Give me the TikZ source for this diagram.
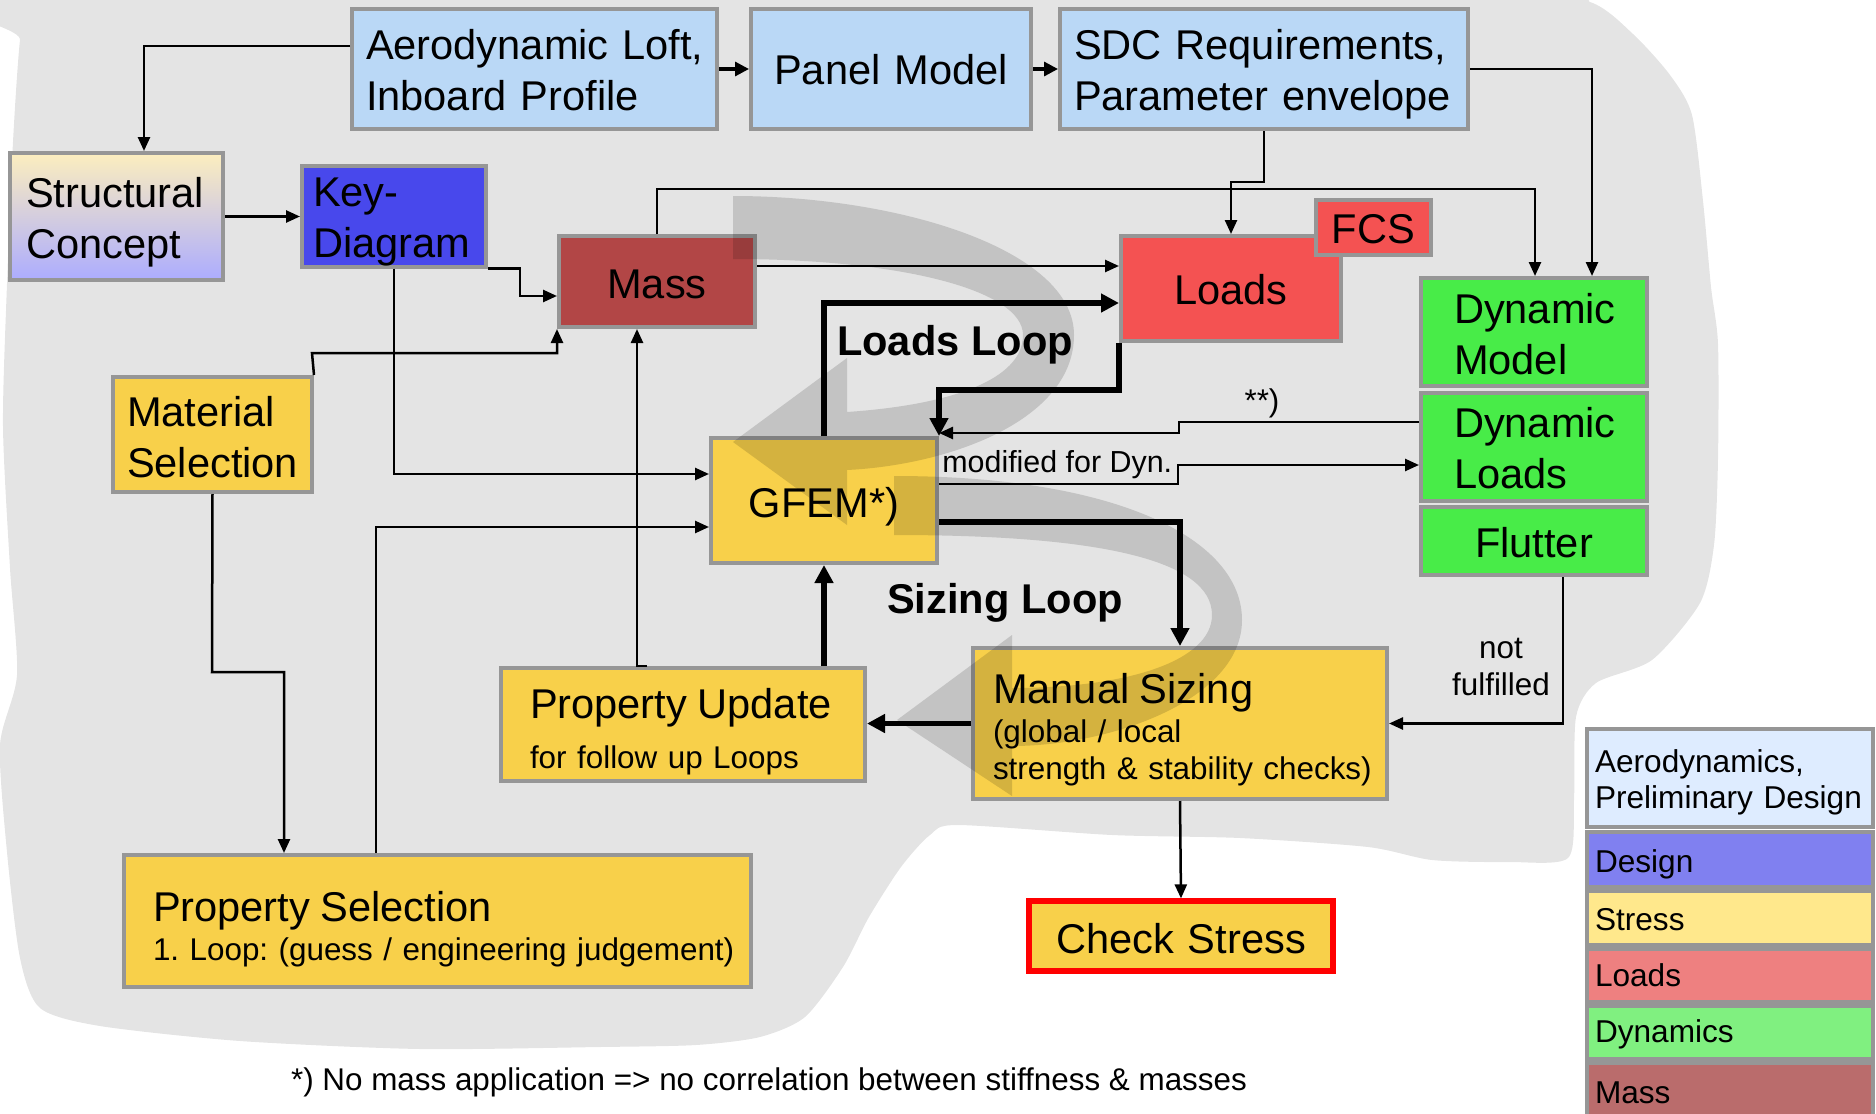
\documentclass[tikz,border=0pt]{standalone}
\usepackage{fontspec}
\setmainfont{Liberation Sans}
\usetikzlibrary{arrows.meta}
\lefthyphenmin=64
\frenchspacing

\definecolor{bluebox}{RGB}{186,216,246}
\definecolor{keyblue}{RGB}{72,72,236}
\definecolor{massred}{RGB}{178,70,70}
\definecolor{loadred}{RGB}{244,82,82}
\definecolor{dyngreen}{RGB}{72,236,72}
\definecolor{stressyel}{RGB}{248,208,74}
\definecolor{boxline}{RGB}{150,150,150}
\definecolor{blobgray}{RGB}{228,228,228}
\definecolor{scTop}{RGB}{252,238,190}
\definecolor{scBot}{RGB}{172,172,255}
\definecolor{lgAero}{RGB}{222,236,255}
\definecolor{lgDesign}{RGB}{128,128,240}
\definecolor{lgStress}{RGB}{255,232,140}
\definecolor{lgLoads}{RGB}{238,128,128}
\definecolor{lgDyn}{RGB}{128,240,128}
\definecolor{lgMass}{RGB}{186,108,108}

\newcommand\fbig{\fontsize{20.8}{25.5}\selectfont}
\newcommand\fsmall{\fontsize{15.7}{18.5}\selectfont}
\newcommand\flegend{\fontsize{15.8}{18}\selectfont}

% box from its corners (x1,y1)-(x2,y2) in pixel units, with a left text pad;
% #9 is the height of an invisible strut that sets the first line's top
\newcommand\abox[9]{%
  \pgfmathsetmacro\bxc{(#3+#5)/2}%
  \pgfmathsetmacro\byc{(#4+#6)/2}%
  \pgfmathsetmacro\bwd{(#5-#3)/2}%
  \pgfmathsetmacro\bht{(#6-#4)/2}%
  \pgfmathsetmacro\bpad{#7/2}%
  \pgfmathsetmacro\btw{(#5-#3-2*#7)/2}%
  \node[#1, minimum width=\bwd pt, minimum height=\bht pt,
        inner xsep=\bpad pt, inner ysep=0pt, text width=\btw pt] (#2) at (\bxc,\byc)
        {\rule{0pt}{#9pt}#8};}

\tikzset{
  bx/.style={draw=boxline, line width=2pt, font=\fbig, rectangle},
  lg/.style={draw=boxline, line width=2pt, font=\flegend, rectangle, align=left},
  ln/.style={line width=1.25pt, -{Triangle[length=7pt,width=6pt]}},
  lnmid/.style={line width=1.6pt, -{Triangle[length=7pt,width=7pt]}},
  lnthick/.style={line width=2.6pt, -{Triangle[length=9pt,width=9pt]}},
  loopfill/.style={fill=black!14, blend mode=multiply},
  lbl/.style={font=\fsmall, inner sep=2pt},
  looplbl/.style={font=\fbig\bfseries, inner sep=2pt}
}

\begin{document}
\begin{tikzpicture}[x=0.5pt,y=-0.5pt]
\useasboundingbox (0,0) rectangle (1876,1114);
\clip (0,0) rectangle (1876,1114);

% grey working area behind the process chart
\fill[blobgray] plot[smooth cycle, tension=0.45] coordinates {
  (30,-10) (1500,-10) (1590,2) (1633,34) (1670,75) (1692,115) (1703,201) (1711,287)
  (1718,344) (1718,459) (1714,545) (1700,603) (1652,660) (1596,683) (1576,717)
  (1574,800) (1568,858) (1509,862) (1432,860) (1368,847) (1240,838) (1112,835)
  (958,825) (930,835) (901,867) (869,917) (843,967) (805,1017) (760,1037)
  (696,1045) (600,1047) (420,1049) (240,1041) (100,1026) (40,1008) (20,958)
  (7,852) (0,745) (17,675) (10,568) (3,426) (7,284) (13,142) (20,40)};

% process boxes
\abox{bx, fill=bluebox, align=left}{aero}{352}{9}{717}{129}{14}{Aerodynamic~Loft,\\Inboard~Profile}{16.2}
\abox{bx, fill=bluebox, align=center}{panel}{751}{9}{1031}{129}{10}{Panel~Model}{16.2}
\abox{bx, fill=bluebox, align=left}{sdc}{1060}{9}{1468}{129}{14}{SDC~Requirements,\\Parameter~envelope}{20.2}
\abox{bx, top color=scTop, bottom color=scBot, align=left}{struct}{10}{153}{223}{280}{16}{Structural\\Concept}{21.2}
\abox{bx, fill=keyblue, align=left}{key}{302}{167}{486}{266}{11}{Key-\\Diagram}{20.2}
\abox{bx, fill=massred, align=center}{mass}{559}{236}{755}{327}{5}{Mass}{17.2}
\abox{bx, fill=loadred, align=center}{loads}{1121}{236}{1341}{341}{5}{Loads}{16.2}
\abox{bx, fill=loadred, align=center}{fcs}{1316}{200}{1431}{255}{3}{FCS}{16.2}
\abox{bx, fill=dyngreen, align=left}{dynmodel}{1421}{278}{1647}{386}{33}{Dynamic\\Model}{17.2}
\abox{bx, fill=dyngreen, align=left}{dynloads}{1421}{393}{1647}{501}{33}{Dynamic\\Loads}{16.2}
\abox{bx, fill=dyngreen, align=center}{flutter}{1421}{507}{1647}{575}{5}{Flutter}{16.2}
\abox{bx, fill=stressyel, align=left}{material}{113}{377}{312}{492}{14}{Material\\Selection}{17.2}
\abox{bx, fill=stressyel, align=center}{gfem}{711}{438}{937}{563}{5}{GFEM*)}{21.2}
\abox{bx, fill=stressyel, align=left, font=\fsmall}{pupdate}{501}{668}{865}{781}{29}{{\fbig Property~Update}\\[6.7pt]for~follow~up~Loops}{22.2}
\abox{bx, fill=stressyel, align=left, font=\fsmall}{msizing}{973}{648}{1387}{799}{20}{{\fbig Manual~Sizing}\\[1.2pt](global~/~local\\strength~\&~stability~checks)}{21.2}
\abox{bx, fill=stressyel, align=left, font=\fsmall}{psel}{124}{855}{751}{987}{29}{{\fbig Property~Selection}\\[1.2pt]1.~Loop:~(guess~/~engineering~judgement)}{23.2}
\abox{bx, fill=stressyel, draw=red, line width=2.6pt, align=center}{check}{1029}{901}{1333}{971}{5}{Check~Stress}{17.2}

% legend
\abox{lg, fill=lgAero}{lgaero}{1587}{729}{1873}{827}{8}{Aerodynamics,\\Preliminary~Design}{15.6}
\abox{lg, fill=lgDesign}{lgdesign}{1587}{832}{1873}{887}{8}{Design}{16.6}
\abox{lg, fill=lgStress}{lgstress}{1587}{891}{1873}{945}{8}{Stress}{12.6}
\abox{lg, fill=lgLoads}{lgloads}{1587}{949}{1873}{1002}{8}{Loads}{11.6}
\abox{lg, fill=lgDyn}{lgdyn}{1587}{1006}{1873}{1059}{8}{Dynamics}{13.6}
\abox{lg, fill=lgMass}{lgmass}{1587}{1063}{1873}{1122}{8}{Mass}{8.6}

% curved loop ribbons
\fill[loopfill] (733,196) .. controls (900,196) and (1074,250) .. (1074,335)
  .. controls (1074,420) and (950,465) .. (847,470) -- (847,525) -- (733,442)
  -- (847,358) -- (847,412) .. controls (950,405) and (1023,380) .. (1023,335)
  .. controls (1023,290) and (900,259) .. (733,259) -- cycle;
\fill[loopfill] (894,476) .. controls (1120,476) and (1242,540) .. (1242,620)
  .. controls (1242,700) and (1110,746) .. (1012,746) -- (1012,796) -- (897,720)
  -- (1012,635) -- (1012,688) .. controls (1130,688) and (1212,660) .. (1212,615)
  .. controls (1212,560) and (1100,535) .. (894,535) -- cycle;

% connectors
\draw[ln] (aero.west |- 0,46) -| (struct.north -| 144,0);
\draw[lnmid] (aero.east) -- (panel.west);
\draw[lnmid] (panel.east) -- (sdc.west);
\draw[ln] (sdc.east |- 0,69) -| (dynmodel.north -| 1592,0);
\draw[ln] (sdc.south -| 1264,0) -- (1264,182) -| (loads.north);
\draw[ln] (mass.north) -- (657,189) -| (dynmodel.north -| 1535,0);
\draw[ln] (struct.east) -- (key.west);
\draw[ln] (key.south east) -| (520,296) -- (mass.west |- 0,296);
\draw[ln] (key.south) |- (gfem.west |- 0,474);
\draw[ln] (material.north east) -- (312,353) -| (mass.south west);
\draw[ln] (material.south) -- (212,672) -| (psel.north -| 284,0);
\draw[ln] (psel.north -| 376,0) |- (gfem.west |- 0,527);
\draw[ln] (pupdate.north -| 647,0) -| (mass.south -| 637,0);
\draw[lnthick] (pupdate.north -| gfem.south) -- (gfem.south);
\draw[lnthick] (gfem.north) |- (loads.west |- 0,303);
\draw[ln] (mass.east |- 0,266) -- (loads.west |- 0,266);
\draw[lnthick] (loads.south west) -- (loads.south west |- 0,390) -| (gfem.north east);
\draw[ln] (dynloads.west |- 0,422) -| (1179,433) -- (gfem.east |- 0,433);
\draw[ln] (gfem.east |- 0,484) -| (1178,465) -- (dynloads.west |- 0,465);
\draw[lnthick] (gfem.east |- 0,522) -| (msizing.north);
\draw[lnthick] (msizing.west) -- (pupdate.east |- msizing.west);
\draw[ln] (flutter.south -| 1563,0) |- (msizing.east);
\draw[ln] (msizing.south) -- (check.north);

% labels
\node[lbl, anchor=west, font=\fontsize{15.2}{18}\selectfont] (modlbl) at (938,465) {modified for Dyn.};
\node[lbl] (starlbl) at (1262,403) {**)};
\node[lbl, align=center] (nflbl) at (1501,667) {not\\fulfilled};
\node[looplbl] (loadsloop) at (955,345) {Loads Loop};
\node[looplbl] (sizingloop) at (1005,603) {Sizing Loop};
\node[lbl] (foot) at (769,1082) {*) No mass application => no correlation between stiffness \& masses};
\end{tikzpicture}
\end{document}
